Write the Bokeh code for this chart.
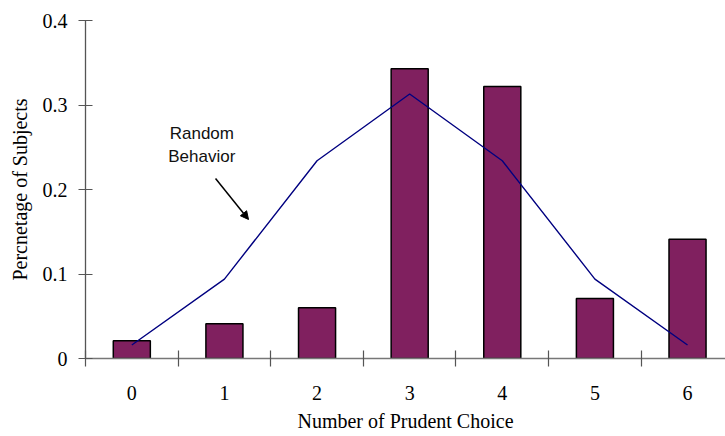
from bokeh.plotting import figure
from bokeh.models import FixedTicker, Arrow, NormalHead, Range1d
from bokeh.core.properties import value
from bokeh.embed import file_html
from bokeh.resources import INLINE

# ---- data ----
categories = [0, 1, 2, 3, 4, 5, 6]
observed = [0.021, 0.041, 0.060, 0.343, 0.322, 0.071, 0.141]
random_behavior = [0.016, 0.094, 0.234, 0.313, 0.234, 0.094, 0.016]
x_tick_labels = ["0", "1", "2", "3", "4", "5", "6"]
y_ticks = [0, 0.1, 0.2, 0.3, 0.4]
y_tick_labels = ["0", "0.1", "0.2", "0.3", "0.4"]
x_title = "Number of Prudent Choice"
y_title = "Percnetage of Subjects"
note_lines = ["Random", "Behavior"]

SERIF = "Liberation Serif"
SANS = "Liberation Sans"

p = figure(width=725, height=436, output_backend="svg", toolbar_location=None,
           x_range=Range1d(-0.5, 6.41), y_range=Range1d(0, 0.4),
           min_border_left=85, min_border_right=0, min_border_top=20,
           min_border_bottom=78)
p.outline_line_color = None
p.xgrid.visible = False
p.ygrid.visible = False
p.background_fill_color = "white"
p.border_fill_color = "white"

p.vbar(x=categories, top=observed, width=0.4, fill_color="#80205F",
       line_color="black", line_width=1.5)
p.line(x=categories, y=random_behavior, line_color="#000080", line_width=1.4)

# annotation
p.text(x=[0.756, 0.756], y=[0.266, 0.239], text=note_lines,
       text_font=value(SANS), text_font_size="17px", text_color="#111111",
       text_align="center", text_baseline="alphabetic")
p.add_layout(Arrow(x_start=0.904, y_start=0.213, x_end=1.26, y_end=0.1645,
                   line_color="black", line_width=1.5,
                   end=NormalHead(size=8, fill_color="black", line_color="black")))

# x axis: labels at centres, ticks at category boundaries
xa = p.xaxis[0]
xa.ticker = FixedTicker(ticks=categories,
                        minor_ticks=[c - 0.5 for c in categories])
xa.major_label_overrides = dict(zip(categories, x_tick_labels))
xa.major_tick_line_color = None
xa.major_tick_in = 0
xa.major_tick_out = 8
xa.minor_tick_in = 8
xa.minor_tick_out = 8
xa.minor_tick_line_color = "#555555"
xa.minor_tick_line_width = 1.2
xa.axis_line_color = "#777777"
xa.axis_line_width = 1.3
xa.major_label_standoff = 19
xa.major_label_text_font = SERIF
xa.major_label_text_font_size = "20px"
xa.major_label_text_color = "black"
xa.axis_label = x_title
xa.axis_label_text_font = SERIF
xa.axis_label_text_font_size = "20px"
xa.axis_label_text_font_style = "normal"
xa.axis_label_text_color = "black"
xa.axis_label_standoff = 7

ya = p.yaxis[0]
ya.ticker = FixedTicker(ticks=y_ticks, minor_ticks=[])
ya.major_label_overrides = dict(zip(y_ticks, y_tick_labels))
ya.major_tick_in = 7
ya.major_tick_out = 7
ya.major_tick_line_color = "#555555"
ya.major_tick_line_width = 1.2
ya.axis_line_color = "#555555"
ya.axis_line_width = 1.3
ya.major_label_standoff = 11
ya.major_label_text_font = SERIF
ya.major_label_text_font_size = "20px"
ya.major_label_text_color = "black"
ya.axis_label = y_title
ya.axis_label_text_font = SERIF
ya.axis_label_text_font_size = "20px"
ya.axis_label_text_font_style = "normal"
ya.axis_label_text_color = "black"
ya.axis_label_standoff = 9

open("out.html", "w").write(file_html(p, INLINE))
